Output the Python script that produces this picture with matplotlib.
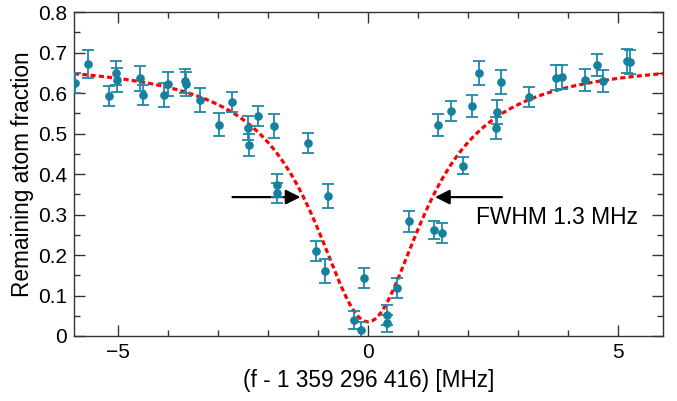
import numpy as np
import matplotlib
matplotlib.use("Agg")
import matplotlib.pyplot as plt
from matplotlib.ticker import MultipleLocator, FuncFormatter

plt.rcParams['font.family'] = ['Liberation Sans', 'DejaVu Sans']

# Measured points: detuning [MHz], remaining fraction, error
det = [-5.85, -5.59, -5.18, -5.04, -5.01, -4.56, -4.50, -4.07, -3.99, -3.66,
       -3.64, -3.36, -2.97, -2.72, -2.39, -2.37, -2.19, -1.87, -1.81, -1.81,
       -1.19, -0.79, -1.03, -0.85, -0.28, -0.14, -0.07, 0.39, 0.39, 0.59,
       0.83, 1.32, 1.49, 1.40, 1.66, 1.91, 2.09, 2.22, 2.57, 2.59,
       2.66, 3.22, 3.77, 3.89, 4.35, 4.59, 4.71, 5.19, 5.24]
frac = [0.624, 0.671, 0.593, 0.649, 0.632, 0.636, 0.596, 0.595, 0.623, 0.630,
        0.623, 0.583, 0.522, 0.578, 0.514, 0.472, 0.544, 0.519, 0.372, 0.354,
        0.477, 0.346, 0.209, 0.160, 0.039, 0.015, 0.143, 0.052, 0.031, 0.118,
        0.283, 0.262, 0.254, 0.522, 0.556, 0.421, 0.569, 0.650, 0.513, 0.554,
        0.628, 0.591, 0.638, 0.640, 0.632, 0.669, 0.629, 0.679, 0.677]
err = [0.025, 0.035, 0.025, 0.030, 0.030, 0.030, 0.025, 0.030, 0.030, 0.030,
       0.030, 0.030, 0.028, 0.025, 0.030, 0.028, 0.025, 0.030, 0.028, 0.025,
       0.025, 0.030, 0.025, 0.030, 0.022, 0.020, 0.025, 0.025, 0.020, 0.025,
       0.025, 0.022, 0.025, 0.027, 0.025, 0.022, 0.027, 0.030, 0.027, 0.030,
       0.030, 0.025, 0.030, 0.030, 0.027, 0.028, 0.027, 0.030, 0.030]

# Lorentzian fit parameters
fit_offset = 0.68
fit_depth = 0.645
fit_center = 0.0
fit_hwhm = 1.35

xticks = [-5, 0, 5]
yticks = [0, 0.1, 0.2, 0.3, 0.4, 0.5, 0.6, 0.7, 0.8]
annot_text = "FWHM 1.3 MHz"

fig = plt.figure(figsize=(6.77, 4.01), dpi=100)
ax = fig.add_axes([0.1093, 0.1621, 0.8700, 0.8079])

xs = np.linspace(-5.88, 5.9, 600)
ys = fit_offset - fit_depth * fit_hwhm**2 / ((xs - fit_center)**2 + fit_hwhm**2)
ax.plot(xs, ys, color='#ff0000', lw=2.3, dashes=(1.6, 1.0), zorder=3)

ax.errorbar(det, frac, yerr=err, fmt='o', ms=5.2, color='#16809f',
            ecolor='#2088a8', elinewidth=1.3, capsize=4, capthick=1.3, zorder=4)

arrow_y = 0.343
ax.annotate('', xy=(-1.35, arrow_y), xytext=(-2.71, arrow_y),
            arrowprops=dict(arrowstyle='-|>', color='black', lw=1.6,
                            mutation_scale=22, shrinkA=0, shrinkB=0))
ax.annotate('', xy=(1.34, arrow_y), xytext=(2.68, arrow_y),
            arrowprops=dict(arrowstyle='-|>', color='black', lw=1.6,
                            mutation_scale=22, shrinkA=0, shrinkB=0))
ax.text(2.17, 0.292, annot_text, fontsize=16.4, va='center', ha='left')

ax.set_xlim(-5.88, 5.9)
ax.set_ylim(0, 0.8)
ax.set_xticks(xticks)
ax.set_yticks(yticks)
ax.xaxis.set_minor_locator(MultipleLocator(1))
ax.yaxis.set_minor_locator(MultipleLocator(0.05))
ax.yaxis.set_major_formatter(FuncFormatter(lambda v, p: '0' if abs(v) < 1e-9 else f'{v:.1f}'))
ax.xaxis.set_major_formatter(FuncFormatter(lambda v, p: '\u2212' + f'{abs(v):.0f}' if v < 0 else f'{v:.0f}'))

ax.tick_params(which='both', direction='in', top=True, right=True, labelsize=15, width=1, color='#333333')
ax.tick_params(which='major', length=8, pad=5)
ax.tick_params(which='minor', length=4.5)
for s in ax.spines.values():
    s.set_color('#333333')
    s.set_linewidth(1)

ax.set_xlabel('(f - 1 359 296 416) [MHz]', fontsize=16.3, labelpad=5)
ax.set_ylabel('Remaining atom fraction', fontsize=16.3, labelpad=3)

fig.savefig('out.png', dpi=100)
